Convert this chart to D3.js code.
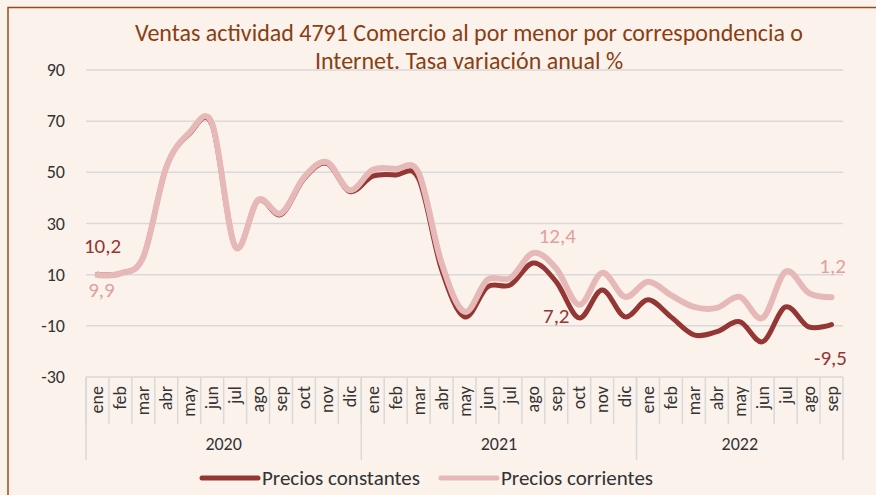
<!DOCTYPE html>
<html>
    <head>
        <meta charset="utf-8">
        <style>
            body { margin: 0; background: #fbf2ec; }
            svg text { font-family: Carlito, Lato, "Open Sans", sans-serif; }
            .grid line { stroke: #d9d9d9; stroke-width: 1.5; }
            .axe line { stroke: #d9d9d9; stroke-width: 1.5; }
            .tick_y { fill: #333; font-size: 18px; }
            .mes { fill: #333; font-size: 18px; }
            .anio { fill: #333; font-size: 18px; }
            .titulo { fill: #8a3e12; font-size: 24px; }
        </style>
    </head>
    <body>
        <div id="grafico"></div>
        <script src="https://cdn.jsdelivr.net/npm/d3@7"></script>
        <script>

//////////////////// datos ////////////////////
let meses = ['ene','feb','mar','abr','may','jun','jul','ago','sep','oct','nov','dic'];
let anios = ['2020', '2021', '2022'];
let meses_2022 = 9;

let precios_constantes = [
    10.2, 10.5, 17, 52, 65, 68.5, 21, 39, 33.5, 47.5, 53.5, 42.5,
    48.5, 49, 47.5, 12, -6.5, 5.2, 6, 14.6, 7.2, -6.9, 4, -6.5,
    0.2, -6.5, -13.5, -12.3, -8.4, -16.2, -2.6, -10.4, -9.5
];
let precios_corrientes = [
    9.9, 10.5, 17, 52, 65.4, 69, 21, 39.2, 34, 48, 54, 43,
    51, 51.3, 49.8, 14.6, -4.5, 8, 8.7, 18.5, 12.4, -1.8, 10.7, 1.3,
    7.2, 2, -2.6, -3, 1.3, -6.9, 11.2, 2.9, 1.2
];

let ticks_y = [-30, -10, 10, 30, 50, 70, 90];

let series = [
    { nombre: 'Precios constantes', valores: precios_constantes, color: '#943634', ancho: 5 },
    { nombre: 'Precios corrientes', valores: precios_corrientes, color: '#e6b9b8', ancho: 6 }
];

// etiquetas de datos: serie, indice del punto y desplazamiento
let etiquetas = [
    { serie: 0, idx: 0, dx: 5, dy: -21 },
    { serie: 1, idx: 0, dx: 4, dy: 22 },
    { serie: 1, idx: 20, dx: 1, dy: -26 },
    { serie: 0, idx: 20, dx: 0, dy: 41 },
    { serie: 1, idx: 32, dx: 1, dy: -24 },
    { serie: 0, idx: 32, dx: -1, dy: 40 }
];

//////////////////// dimensiones ////////////////////
let W = 876;
let H = 495;
let izq = 86, der = 843, arriba = 70, abajo = 377;

let categorias = [];
anios.forEach((a, ia) => {
    let n = ia == anios.length - 1 ? meses_2022 : 12;
    meses.slice(0, n).forEach((m) => categorias.push(a + '-' + m));
});

let x = d3.scaleBand().domain(categorias).range([izq, der]);
let y = d3.scaleLinear().domain([-30, 90]).range([abajo, arriba]);

let svg = d3.select('#grafico').append('svg')
    .attr('width', W)
    .attr('height', H);

// fondo y borde
svg.append('rect')
    .attr('x', 8).attr('y', 7.5)
    .attr('width', W + 20).attr('height', H + 20)
    .attr('fill', '#fbf2ec')
    .attr('stroke', '#9c4a1a')
    .attr('stroke-width', 1.5);

// rejilla
svg.append('g').classed('grid', true)
    .selectAll('line').data(ticks_y.filter((t) => t != -30)).join('line')
    .attr('x1', izq).attr('x2', der)
    .attr('y1', (d) => y(d)).attr('y2', (d) => y(d));

svg.append('g')
    .selectAll('text').data(ticks_y).join('text')
    .classed('tick_y', true)
    .attr('x', 65)
    .attr('y', (d) => y(d) + 6)
    .attr('text-anchor', 'end')
    .text((d) => d);

// titulo
let titulo = svg.append('text').classed('titulo', true).attr('text-anchor', 'middle');
titulo.append('tspan').attr('x', 469).attr('y', 41).text('Ventas actividad 4791 Comercio al por menor por  correspondencia o');
titulo.append('tspan').attr('x', 469).attr('y', 69).text('Internet. Tasa variación anual %');

// eje x
let eje = svg.append('g').classed('axe', true);
eje.append('line').attr('x1', izq).attr('x2', der).attr('y1', abajo).attr('y2', abajo);

categorias.forEach((c, i) => {
    let x0 = x(c);
    eje.append('line').attr('x1', x0).attr('x2', x0).attr('y1', abajo).attr('y2', 424);
    eje.append('text')
        .classed('mes', true)
        .attr('text-anchor', 'end')
        .attr('transform', `translate(${x0 + x.bandwidth() / 2 + 6}, 386) rotate(-90)`)
        .text(c.split('-')[1]);
});

// separadores de anio
anios.forEach((a) => {
    let del_anio = categorias.filter((c) => c.startsWith(a));
    let x0 = x(del_anio[0]);
    let x1 = x(del_anio[del_anio.length - 1]) + x.bandwidth();
    eje.append('line').attr('x1', x0).attr('x2', x0).attr('y1', abajo).attr('y2', 460);
    eje.append('text')
        .classed('anio', true)
        .attr('x', (x0 + x1) / 2)
        .attr('y', 450)
        .attr('text-anchor', 'middle')
        .text(a);
});
eje.append('line').attr('x1', der).attr('x2', der).attr('y1', abajo).attr('y2', 460);

// lineas
let linea = d3.line()
    .x((d, i) => x(categorias[i]) + x.bandwidth() / 2)
    .y((d) => y(d))
    .curve(d3.curveCatmullRom.alpha(0));

series.forEach((s) => {
    svg.append('path')
        .attr('d', linea(s.valores))
        .attr('fill', 'none')
        .attr('stroke', s.color)
        .attr('stroke-width', s.ancho)
        .attr('stroke-linecap', 'round')
        .attr('stroke-linejoin', 'round');
});

// etiquetas de datos
etiquetas.forEach((e) => {
    let s = series[e.serie];
    let v = s.valores[e.idx];
    svg.append('text')
        .attr('x', x(categorias[e.idx]) + x.bandwidth() / 2 + e.dx)
        .attr('y', y(v) + e.dy)
        .attr('text-anchor', 'middle')
        .attr('fill', e.serie == 0 ? '#943634' : '#e0a09e')
        .style('font-size', '21px')
        .text(String(v).replace('.', ','));
});

// leyenda
let leyenda = [[202, 262], [441, 501]];
series.forEach((s, i) => {
    let [lx, tx] = leyenda[i];
    svg.append('line')
        .attr('x1', lx).attr('x2', lx + 56)
        .attr('y1', 478).attr('y2', 478)
        .attr('stroke', s.color)
        .attr('stroke-width', 5)
        .attr('stroke-linecap', 'round');
    svg.append('text')
        .attr('x', tx).attr('y', 485)
        .attr('fill', '#333')
        .style('font-size', '21px')
        .text(s.nombre);
});

        </script>
    </body>
</html>
